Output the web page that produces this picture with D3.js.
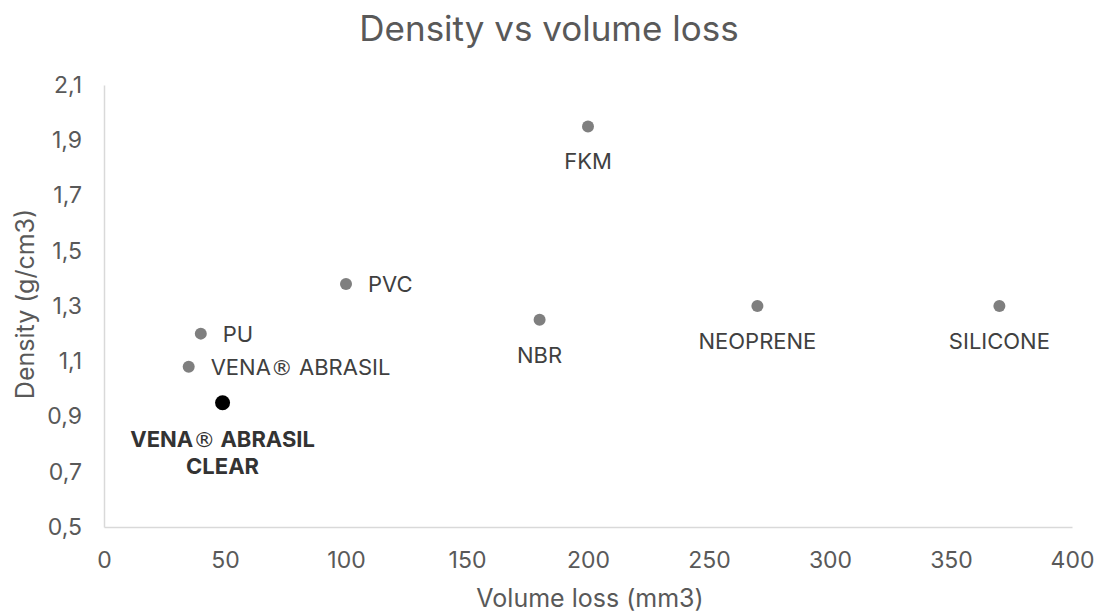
<!DOCTYPE html>
<html><head><meta charset="utf-8">
<script src="https://cdn.jsdelivr.net/npm/d3@7"></script>
<style>body{margin:0;background:#fff}svg{display:block}</style>
</head><body><svg id="c" width="1100" height="616"></svg>
<script>
const materials = ["PVC","PU","VENA® ABRASIL","VENA® ABRASIL CLEAR","FKM","NBR","NEOPRENE","SILICONE"];
const volumeLoss = [100,40,35,49,200,180,270,370];
const density = [1.38,1.2,1.08,0.95,1.95,1.25,1.3,1.3];
const labelPos = ["right","right","right","below2","below","below","below","below"];
const highlight = [false,false,false,true,false,false,false,false];
const xTicks = [0,50,100,150,200,250,300,350,400];
const yTicks = [0.5,0.7,0.9,1.1,1.3,1.5,1.7,1.9,2.1];

const svg = d3.select("#c");
const font = "Inter, 'Noto Sans', sans-serif";
const x = d3.scaleLinear().domain([0,400]).range([104,1072]);
const y = d3.scaleLinear().domain([0.5,2.1]).range([527,85]);

svg.append("text").attr("x",549).attr("y",41).attr("text-anchor","middle")
  .attr("font-family",font).attr("font-size",35).attr("fill","#595959").text("Density vs volume loss");

const xa = svg.append("g").attr("transform","translate(0,527)")
  .call(d3.axisBottom(x).tickValues(xTicks).tickSize(0).tickPadding(24).tickFormat(d=>d));
const ya = svg.append("g").attr("transform","translate(104,0)")
  .call(d3.axisLeft(y).tickValues(yTicks).tickSize(0).tickPadding(22).tickFormat(d=>d3.format(".1f")(d).replace(".",",")));
[xa,ya].forEach(a=>{
  a.select(".domain").attr("stroke","#d9d9d9").attr("stroke-width",1.5);
  a.selectAll("text").attr("font-family",font).attr("font-size",23).attr("fill","#595959");
});
xa.selectAll(".tick text").attr("dy",null).attr("dominant-baseline","central").attr("y",33);

svg.append("text").attr("x",590).attr("y",598).attr("dominant-baseline","central").attr("text-anchor","middle")
  .attr("font-family",font).attr("font-size",25).attr("fill","#595959").text("Volume loss (mm3)");
svg.append("text").attr("transform","translate(25,304) rotate(-90)").attr("dominant-baseline","central").attr("text-anchor","middle")
  .attr("font-family",font).attr("font-size",25).attr("fill","#595959").text("Density (g/cm3)");

const data = materials.map((m,i)=>({m,v:volumeLoss[i],d:density[i],pos:labelPos[i],hl:highlight[i]}));
const g = svg.append("g");
g.selectAll("circle").data(data).join("circle")
  .attr("cx",d=>x(d.v)).attr("cy",d=>y(d.d))
  .attr("r",d=>d.hl?7.5:6).attr("fill",d=>d.hl?"#000":"#7f7f7f");

function addText(t, s){
  const parts = s.split("®");
  parts.forEach((p,i)=>{
    if(i>0) t.append("tspan").attr("font-family","'DejaVu Sans', sans-serif").attr("font-weight","normal").text("®");
    if(p) t.append("tspan").text(p);
  });
}
data.forEach(d=>{
  const cx = x(d.v), cy = y(d.d);
  if(d.pos==="right"){
    const t = g.append("text").attr("x",cx+22).attr("y",cy).attr("dominant-baseline","central")
      .attr("font-family",font).attr("font-size",22).attr("fill","#404040");
    addText(t,d.m);
  } else if(d.pos==="below"){
    g.append("text").attr("x",cx).attr("y",cy+35).attr("dominant-baseline","central").attr("text-anchor","middle")
      .attr("font-family",font).attr("font-size",22).attr("fill","#404040").text(d.m);
  } else {
    const t1 = g.append("text").attr("x",cx).attr("y",cy+36).attr("dominant-baseline","central").attr("text-anchor","middle")
      .attr("font-family",font).attr("font-size",22).attr("font-weight","bold").attr("fill","#333");
    addText(t1,"VENA® ABRASIL");
    g.append("text").attr("x",cx).attr("y",cy+63).attr("dominant-baseline","central").attr("text-anchor","middle")
      .attr("font-family",font).attr("font-size",22).attr("font-weight","bold").attr("fill","#333").text("CLEAR");
  }
});
</script></body></html>
